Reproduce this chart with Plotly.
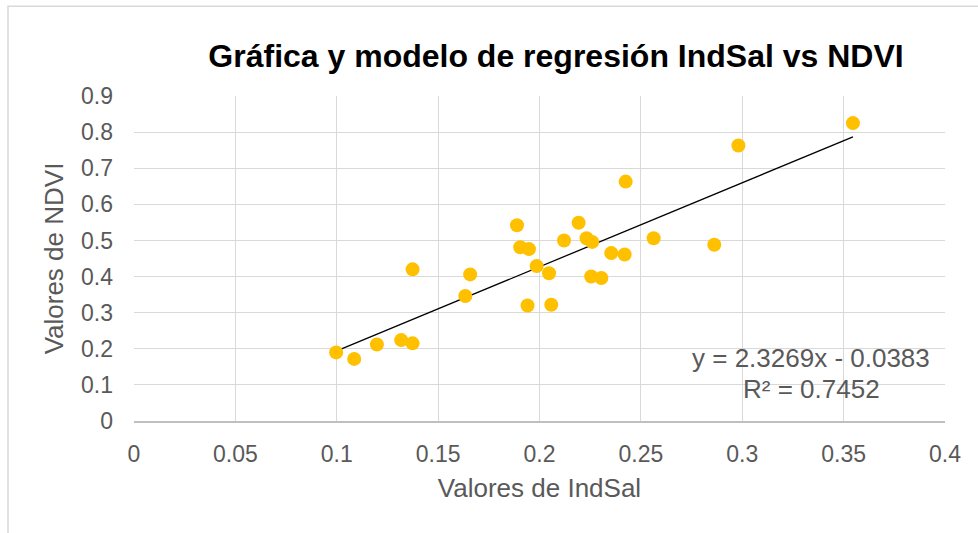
import plotly.graph_objects as go

# Data
indsal = [0.0997, 0.1086, 0.1198, 0.1318, 0.1374, 0.1374, 0.1658, 0.1634,
          0.1889, 0.1905, 0.1948, 0.1986, 0.2047, 0.1941, 0.2058, 0.2121,
          0.2193, 0.2232, 0.2260, 0.2255, 0.2305, 0.2354, 0.2420, 0.2425,
          0.2563, 0.2862, 0.2981, 0.3546]
ndvi = [0.190, 0.172, 0.212, 0.224, 0.215, 0.420, 0.406, 0.346,
        0.542, 0.481, 0.476, 0.429, 0.409, 0.320, 0.322, 0.500,
        0.549, 0.506, 0.496, 0.400, 0.396, 0.465, 0.461, 0.663,
        0.506, 0.488, 0.763, 0.825]
slope = 2.3269
intercept = -0.0383
r2 = 0.7452

x_ticks = [0, 0.05, 0.1, 0.15, 0.2, 0.25, 0.3, 0.35, 0.4]
y_ticks = [0, 0.1, 0.2, 0.3, 0.4, 0.5, 0.6, 0.7, 0.8, 0.9]

title_text = "Gráfica y modelo de regresión IndSal vs NDVI"
x_title = "Valores de IndSal"
y_title = "Valores de NDVI"

FONT = "Liberation Sans, Arial, sans-serif"
GRAY = "#595959"

xmin, xmax = min(indsal), max(indsal)
trend_x = [xmin, xmax]
trend_y = [slope * v + intercept for v in trend_x]

fig = go.Figure()
fig.add_trace(go.Scatter(
    x=trend_x, y=trend_y, mode="lines",
    line=dict(color="black", width=1.3), hoverinfo="skip", showlegend=False))
fig.add_trace(go.Scatter(
    x=indsal, y=ndvi, mode="markers",
    marker=dict(color="#FFC000", size=14, line=dict(width=0)),
    showlegend=False))

fig.update_layout(
    width=978, height=533,
    margin=dict(l=134, r=33, t=96, b=112),
    paper_bgcolor="white", plot_bgcolor="white",
    font=dict(family=FONT, color=GRAY),
    title=dict(text="<b>" + title_text + "</b>", x=556 / 978, xanchor="center",
               y=1 - 56 / 533, yanchor="middle",
               font=dict(family=FONT, size=32, color="black")),
    xaxis=dict(range=[0, 0.4], tickvals=x_ticks, ticktext=[f"{v:g}" for v in x_ticks],
               automargin=False,
               showgrid=True, gridcolor="#d9d9d9", gridwidth=1,
               zeroline=False, showline=True, linecolor="#bfbfbf", linewidth=1.5,
               ticks="", ticklabelstandoff=12,
               tickfont=dict(family=FONT, size=23, color=GRAY),
               title=dict(text=x_title, standoff=12,
                          font=dict(family=FONT, size=26, color=GRAY))),
    yaxis=dict(range=[0, 0.9], tickvals=y_ticks, ticktext=[f"{v:g}" for v in y_ticks],
               automargin=False,
               showgrid=True, gridcolor="#d9d9d9", gridwidth=1,
               zeroline=False, showline=False,
               ticks="", ticklabelstandoff=20,
               tickfont=dict(family=FONT, size=23, color=GRAY),
               title=dict(text=y_title, standoff=9,
                          font=dict(family=FONT, size=26, color=GRAY))),
    shapes=[dict(type="rect", xref="paper", yref="paper",
                 x0=(8 - 134) / 811, x1=1.2, y0=-0.5, y1=(421.5 - 6) / 325.5,
                 line=dict(color="#d9d9d9", width=1.5), layer="below")],
    annotations=[
        dict(text=f"y = {slope}x - {abs(intercept)}", xref="x", yref="y",
             x=0.334, y=0.175, showarrow=False, xanchor="center", yanchor="middle",
             font=dict(family=FONT, size=26, color=GRAY)),
        dict(text=f"R² = {r2}", xref="x", yref="y",
             x=0.334, y=0.089, showarrow=False, xanchor="center", yanchor="middle",
             font=dict(family=FONT, size=26, color=GRAY)),
    ],
)

fig.write_html("out.html", config={"displayModeBar": False},
               post_script="document.body.style.margin='0px';document.body.style.overflow='hidden';")
